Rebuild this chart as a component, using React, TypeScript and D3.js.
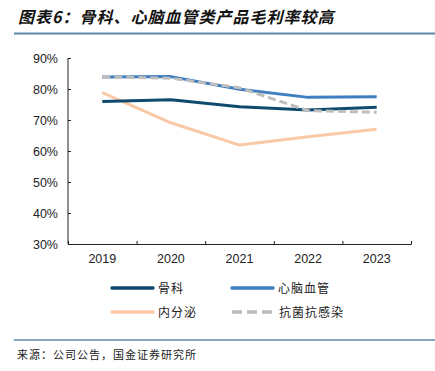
import React, { useEffect, useRef } from 'react';
import * as d3 from 'd3';

const years = ['2019', '2020', '2021', '2022', '2023'];
const guke = [0.76, 0.765, 0.743, 0.732, 0.741];
const xinnao = [0.839, 0.84, 0.799, 0.773, 0.775];
const neifenmi = [0.788, 0.691, 0.619, 0.646, 0.67];
const kangjun = [0.839, 0.835, 0.804, 0.73, 0.725];
const yTicks = [0.3, 0.4, 0.5, 0.6, 0.7, 0.8, 0.9];

const seriesList = [
  { name: '骨科', values: guke, color: '#0e4a6e', dash: null },
  { name: '心脑血管', values: xinnao, color: '#3f7ec0', dash: null },
  { name: '内分泌', values: neifenmi, color: '#f9c8a6', dash: null },
  { name: '抗菌抗感染', values: kangjun, color: '#bdbdbd', dash: '8,4' },
];

const cjk = '"Noto Sans CJK SC", sans-serif';

const App = () => {
  const svgRef = useRef<SVGSVGElement>(null);

  useEffect(() => {
    const svg = d3.select(svgRef.current);
    svg.selectAll('*').remove();

    const left = 68, right = 411, top = 58, bottom = 244;

    const x = d3.scalePoint().domain(years).range([left, right]).padding(0.5);
    const y = d3.scaleLinear().domain([0.3, 0.9]).range([bottom, top]);

    // title
    svg.append('text')
      .attr('x', 18).attr('y', 23)
      .attr('font-family', cjk)
      .attr('font-size', 16)
      .attr('letter-spacing', 1)
      .attr('font-weight', 'bold')
      .attr('font-style', 'italic')
      .attr('fill', '#111')
      .text('图表6：骨科、心脑血管类产品毛利率较高');

    svg.append('line')
      .attr('x1', 14).attr('x2', 435).attr('y1', 33.5).attr('y2', 33.5)
      .attr('stroke', '#5b8aa9').attr('stroke-width', 2);

    // axes
    const yAxis = d3.axisLeft(y).tickValues(yTicks).tickFormat(d3.format('.0%')).tickSize(-3).tickPadding(10);
    const gy = svg.append('g').attr('transform', `translate(${left},0)`).call(yAxis);
    const xAxis = d3.axisBottom(
      d3.scaleLinear().domain([0, years.length]).range([left, right])
    ).tickValues(d3.range(years.length + 1)).tickSize(-3).tickFormat(() => '');
    const gx = svg.append('g').attr('transform', `translate(0,${bottom})`).call(xAxis);

    [gy, gx].forEach(g => {
      g.select('.domain').attr('stroke', '#222').attr('stroke-width', 1);
      g.selectAll('.tick line').attr('stroke', '#222');
      g.selectAll('text')
        .attr('font-family', '"Liberation Sans", Arial, sans-serif')
        .attr('font-size', 12.5)
        .attr('fill', '#222');
    });
    gy.select('.domain').attr('d', `M0,${top}H0V${bottom}H0`);

    svg.append('g').selectAll('text').data(years).join('text')
      .attr('x', d => x(d)!)
      .attr('y', bottom + 19)
      .attr('text-anchor', 'middle')
      .attr('font-family', '"Liberation Sans", Arial, sans-serif')
      .attr('font-size', 12.5)
      .attr('fill', '#222')
      .text(d => d);

    const line = d3.line<number>()
      .x((_, i) => x(years[i])!)
      .y(d => y(d));

    const order = [seriesList[2], seriesList[0], seriesList[1], seriesList[3]];
    order.forEach(s => {
      svg.append('path')
        .attr('d', line(s.values))
        .attr('fill', 'none')
        .attr('stroke', s.color)
        .attr('stroke-width', 3)
        .attr('stroke-dasharray', s.dash)
        .attr('stroke-linejoin', 'round');
    });

    // legend
    const legPos = [
      [112, 288], [232, 288], [112, 312], [232, 312],
    ];
    seriesList.forEach((s, i) => {
      const [lx, ly] = legPos[i];
      svg.append('line')
        .attr('x1', lx).attr('x2', lx + 41).attr('y1', ly).attr('y2', ly)
        .attr('stroke', s.color).attr('stroke-width', 3.5)
        .attr('stroke-linecap', s.dash ? 'butt' : 'round')
        .attr('stroke-dasharray', s.dash ? '10,5' : null);
      svg.append('text')
        .attr('x', lx + (s.dash ? 47 : 46)).attr('y', ly + 4.5)
        .attr('font-family', cjk)
        .attr('font-size', 12)
        .attr('letter-spacing', 1)
        .attr('fill', '#222')
        .text(s.name);
    });

    svg.append('line')
      .attr('x1', 14).attr('x2', 435).attr('y1', 340).attr('y2', 340)
      .attr('stroke', '#5b8aa9').attr('stroke-width', 1.5);

    svg.append('text')
      .attr('x', 17).attr('y', 359)
      .attr('font-family', cjk)
      .attr('font-size', 11)
      .attr('letter-spacing', 1)
      .attr('fill', '#222')
      .text('来源：公司公告，国金证券研究所');
  }, []);

  return (
    <svg ref={svgRef} width={435} height={371}
      style={{ position: 'absolute', left: 0, top: 0, background: '#fff' }} />
  );
};

export default App;
